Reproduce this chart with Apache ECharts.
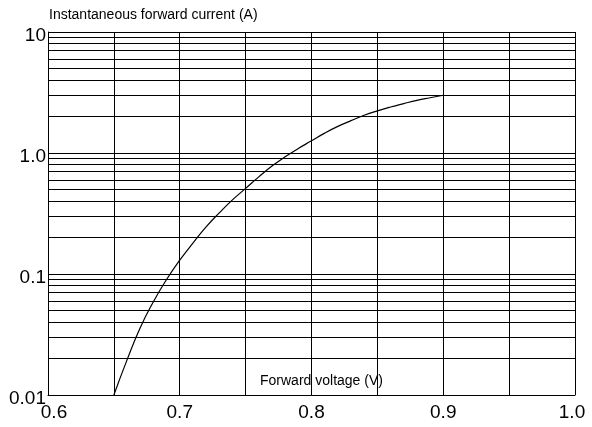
<!DOCTYPE html>
<html>
<head>
<meta charset="utf-8">
<script src="https://cdn.jsdelivr.net/npm/echarts@6/dist/echarts.min.js"></script>
<style>
html,body{margin:0;padding:0;background:#fff;}
#chart{width:592px;height:427px;}
</style>
</head>
<body>
<div id="chart"></div>
<script>
// Forward voltage (V)
const voltage = [0.65,0.66,0.67,0.68,0.69,0.70,0.71,0.72,0.73,0.74,0.75,0.76,0.77,0.78,0.79,0.80,0.81,0.82,0.83,0.84,0.85,0.86,0.87,0.88,0.89,0.90];
// Instantaneous forward current (A)
const current = [0.01,0.0195,0.036,0.059,0.09,0.13,0.18,0.245,0.32,0.41,0.51,0.635,0.78,0.93,1.09,1.26,1.46,1.66,1.85,2.05,2.23,2.40,2.56,2.72,2.86,3.0];
// Minor horizontal grid values
const minorGrid = [0.02,0.03,0.04,0.05,0.06,0.07,0.08,0.09,0.2,0.3,0.4,0.5,0.6,0.7,0.8,0.9,2,3,4,5,6,7,8,9];
const yTickLabels = {'0.01':'0.01','0.1':'0.1','1':'1.0','10':'10'};
const xName = 'Forward voltage (V)';
const yName = 'Instantaneous forward current (A)';

const FONT = '"Liberation Sans", Arial, sans-serif';
const chart = echarts.init(document.getElementById('chart'));
chart.setOption({
  animation: false,
  backgroundColor: '#fff',
  title: [
    {text: yName, left: 49, top: 8, padding: 0, textStyle: {fontFamily: FONT, fontSize: 14, fontWeight: 'normal', color: '#000'}},
    {text: xName, left: 260, top: 374, padding: 0, textStyle: {fontFamily: FONT, fontSize: 14, fontWeight: 'normal', color: '#000'}}
  ],
  grid: {left: 48, right: 17, top: 32, bottom: 32, containLabel: false},
  xAxis: {
    type: 'value', min: 0.6, max: 1.0, interval: 0.05,
    axisLine: {show: true, lineStyle: {color: '#000', width: 1}},
    axisTick: {show: false},
    splitLine: {show: true, lineStyle: {color: '#000', width: 1}},
    axisLabel: {
      margin: 8, color: '#000', fontFamily: FONT, fontSize: 19,
      formatter: function (v) {
        const r = Math.round(v * 10);
        if (Math.abs(v * 10 - r) > 1e-6) return '';
        const s = (r / 10).toFixed(1);
        if (r === 6) return '{a|' + s + '}';
        if (r === 10) return '{b|' + s + '}';
        return s;
      },
      rich: {
        a: {fontFamily: FONT, fontSize: 19, color: '#000', padding: [0, 0, 0, 12]},
        b: {fontFamily: FONT, fontSize: 19, color: '#000', padding: [0, 6, 0, 0]}
      }
    }
  },
  yAxis: {
    type: 'log', logBase: 10, min: 0.01, max: 10,
    axisLine: {show: true, lineStyle: {color: '#000', width: 1}},
    axisTick: {show: false},
    splitLine: {show: true, lineStyle: {color: '#000', width: 1}},
    axisLabel: {
      margin: 2, color: '#000', fontFamily: FONT, fontSize: 19,
      formatter: function (v) {
        const k = String(+v.toPrecision(3));
        return yTickLabels[k] !== undefined ? '{v|' + yTickLabels[k] + '}' : '';
      },
      rich: {
        v: {fontFamily: FONT, fontSize: 19, color: '#000', padding: [8, 0, 0, 0]}
      }
    }
  },
  series: [{
    type: 'line',
    data: voltage.map((v, i) => [v, current[i]]),
    smooth: true,
    showSymbol: false,
    lineStyle: {color: '#000', width: 1.2},
    markLine: {
      silent: true,
      symbol: 'none',
      label: {show: false},
      lineStyle: {color: '#000', width: 1, type: 'solid'},
      data: minorGrid.map(v => ({yAxis: v}))
    }
  }]
});
</script>
</body>
</html>
